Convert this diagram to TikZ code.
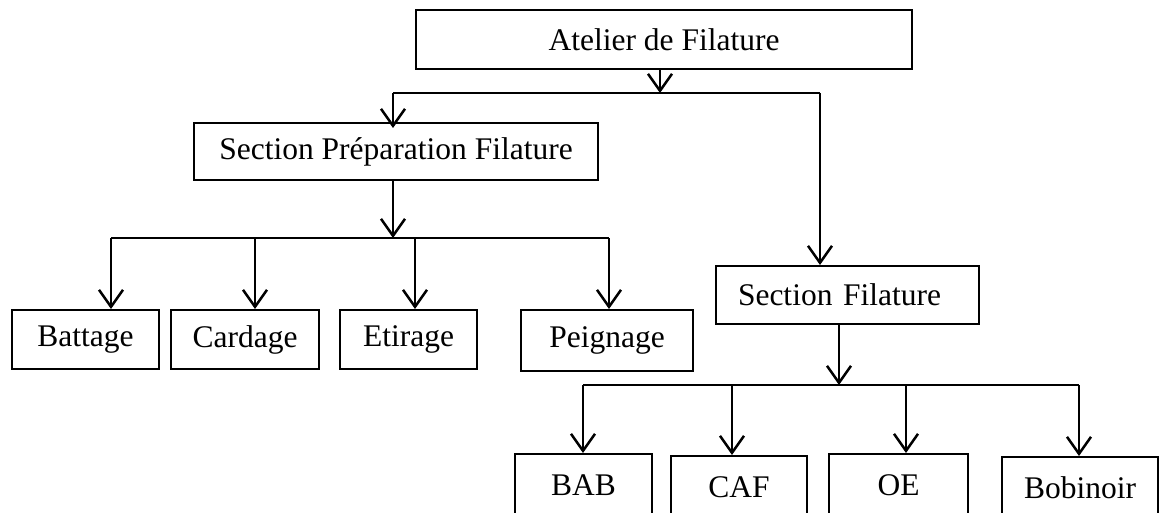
\documentclass[tikz,border=0pt]{standalone}
\usepackage{fontspec}
\setmainfont{Liberation Serif}
\usetikzlibrary{arrows.meta}
\tikzset{
  box/.style={draw, line width=2pt, rectangle, inner sep=0pt, anchor=north west,
    font=\fontsize{31.5}{37}\selectfont},
  arr/.style={line width=2.5pt, -{Straight Barb[length=17pt,width=24pt]}},
  bus/.style={line width=1.8pt}
}
\begin{document}
\begin{tikzpicture}[x=1pt,y=-1pt]
\useasboundingbox (0,0) rectangle (1161,513);
\clip (0,0) rectangle (1161,513);
% boxes
\node[box, minimum width=496pt, minimum height=59pt] (atelier) at (415,9) {Atelier de Filature};
\node[box, minimum width=404pt, minimum height=57pt] (prep) at (193,122) {Section Préparation Filature};
\node[box, minimum width=263pt, minimum height=58pt, text width=219pt, inner xsep=22pt, align=left] (fil) at (715,265) {Section Filature};
\node[box, minimum width=147pt, minimum height=59pt] (batt) at (11,309) {Battage};
\node[box, minimum width=148pt, minimum height=59pt] (card) at (170,309) {Cardage};
\node[box, minimum width=137pt, minimum height=59pt] (etir) at (339,309) {Etirage};
\node[box, minimum width=172pt, minimum height=61pt] (peig) at (520,309) {Peignage};
\node[box, minimum width=137pt, minimum height=62pt] (bab) at (514,453) {BAB};
\node[box, minimum width=136pt, minimum height=63pt] (caf) at (670,455) {CAF};
\node[box, minimum width=139pt, minimum height=62pt] (oe) at (828,453) {OE};
\node[box, minimum width=156pt, minimum height=62pt] (bob) at (1001,456) {Bobinoir};
% level 1
\coordinate (t1) at (660,93);
\coordinate (b1L) at (393,93);
\coordinate (b1R) at (820,93);
\draw[arr] (t1 |- atelier.south) -- (t1);
\draw[bus] (b1L) -- (b1R);
\draw[arr] (b1L) -- ([yshift=-6pt]b1L |- prep.north);
\draw[arr] (b1R) -- (b1R |- fil.north);
% level 2 left
\coordinate (t2) at (393,238);
\coordinate (b2a) at (111,238);
\coordinate (b2b) at (255,239);
\coordinate (b2c) at (415,238);
\coordinate (b2d) at (609,238);
\draw[arr] (t2 |- prep.south) -- (t2);
\draw[bus] (b2a) -- (b2d);
\draw[arr] (b2a) -- (b2a |- batt.north);
\draw[arr] (b2b) -- (b2b |- card.north);
\draw[arr] (b2c) -- (b2c |- etir.north);
\draw[arr] (b2d) -- (b2d |- peig.north);
% level 2 right
\coordinate (t3) at (839,385);
\coordinate (b3a) at (583,385);
\coordinate (b3b) at (732,385);
\coordinate (b3c) at (906,385);
\coordinate (b3d) at (1079,385);
\draw[arr] (t3 |- fil.south) -- (t3);
\draw[bus] (b3a) -- (b3d);
\draw[arr] (b3a) -- (b3a |- bab.north);
\draw[arr] (b3b) -- (b3b |- caf.north);
\draw[arr] (b3c) -- (b3c |- oe.north);
\draw[arr] (b3d) -- (b3d |- bob.north);
\end{tikzpicture}
\end{document}
